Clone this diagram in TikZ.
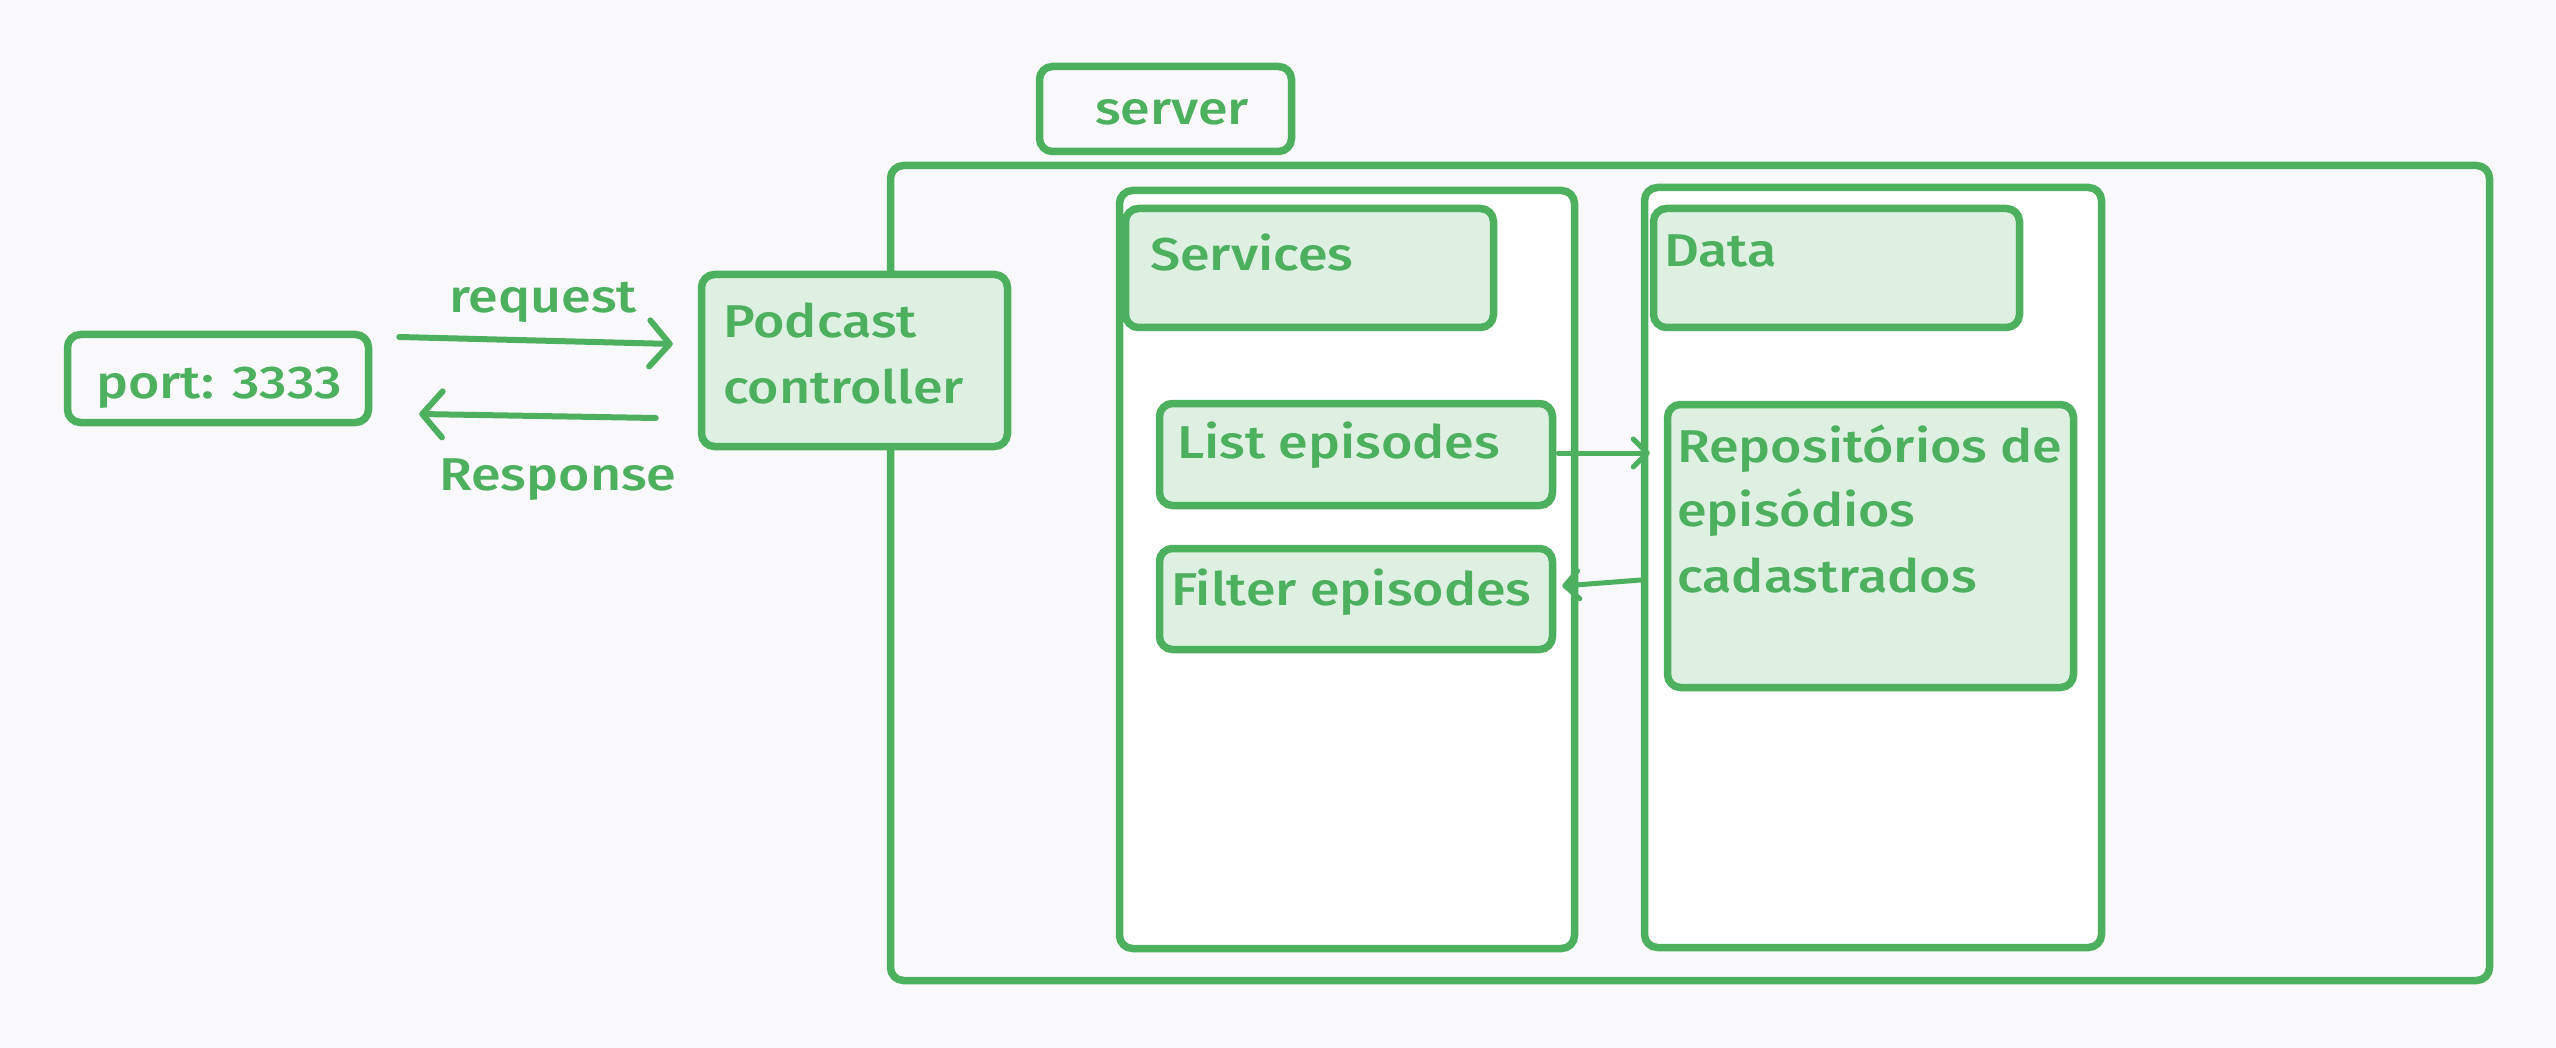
\documentclass[tikz,border=0pt]{standalone}
\usepackage{fontspec}
\setmainfont{Fira Sans Medium}[FakeStretch=1.17]
\usetikzlibrary{arrows.meta,calc}
\definecolor{grn}{HTML}{4DB05F}
\definecolor{lgrn}{HTML}{DDF0E1}
\definecolor{bgc}{HTML}{F9F9FB}
\tikzset{
  boxbase/.style={draw=grn, line width=7.5pt, rounded corners=13pt, inner sep=0pt},
  plainbox/.style={boxbase},
  whitebox/.style={boxbase, fill=white},
  greenbox/.style={boxbase, fill=lgrn},
  txt/.style={text=grn, inner sep=0pt, font=\fontsize{46}{60}\selectfont},
  bigarrow/.style={draw=grn, line width=6pt, line cap=round, line join=round,
    -{Straight Barb[length=20pt,width=46pt,line cap=round,line join=round]}},
  smallarrow/.style={draw=grn, line width=5pt, line cap=round, line join=round,
    -{Straight Barb[length=14pt,width=28pt,line cap=round,line join=round]}}
}
\newcommand{\mybox}[6]{%
  \node[#6, minimum width={#4-#2-7}, minimum height={#5-#3-7}] (#1) at ({(#2+#4)/2},{(#3+#5)/2}) {};}
\begin{document}
\begin{tikzpicture}[x=1pt,y=-1pt]
\fill[bgc] (0,0) rectangle (2556,1048);
\useasboundingbox (0,0) rectangle (2556,1048);
% boxes
\mybox{port}{64}{331}{372}{426}{plainbox}
\mybox{srvlabel}{1036}{63}{1295}{155}{plainbox}
\mybox{outer}{887}{162}{2493}{984}{plainbox}
\mybox{ctrl}{698}{271}{1011}{450}{greenbox}
\mybox{svccol}{1116}{187}{1578}{952}{whitebox}
\mybox{svchead}{1122}{205}{1497}{331}{greenbox}
\mybox{datacol}{1641}{184}{2105}{951}{whitebox}
\mybox{datahead}{1650}{205}{2023}{331}{greenbox}
\mybox{list}{1156}{400}{1556}{509}{greenbox}
\mybox{filter}{1156}{545}{1556}{653}{greenbox}
\mybox{repo}{1664}{401}{2077}{691}{greenbox}
% texts
\node[txt, anchor=base] (tport) at (219,398) {port: 3333};
\node[txt, anchor=base west] (tctrl1) at (723,338) {Podcast};
\node[txt, anchor=base west] (tctrl2) at (723,403) {controller};
\node[txt, anchor=base west] (treq) at (449,313) {request};
\node[txt, anchor=base west] (tresp) at (439,490) {Response};
\node[txt, anchor=base west] (tsrv) at (1095,125) {server};
\node[txt, anchor=base west] (tsvc) at (1150,271) {Services};
\node[txt, anchor=base west] (tdata) at (1664,267) {Data};
\node[txt, anchor=base west] (tlist) at (1177,458) {List episodes};
\node[txt, anchor=base west] (tfilter) at (1171,605) {Filter episodes};
\node[txt, anchor=base west] (trepo1) at (1677,462) {Repositórios de};
\node[txt, anchor=base west] (trepo2) at (1677,526) {episódios};
\node[txt, anchor=base west] (trepo3) at (1677,592) {cadastrados};
% connectors
\draw[bigarrow] ($(port.east)+(27,-41.5)$) -- ($(ctrl.west)+(-25,-16.5)$);
\draw[bigarrow] ($(ctrl.west)+(-42,57.5)$) -- ($(port.east)+(47,35.5)$);
\draw[smallarrow] ($(list.east)+(2,-1.5)$) -- ($(repo.west)+(-14,-93)$);
\draw[smallarrow] ($(repo.west)+(-23,34)$) -- ($(filter.east)+(6,-13)$);
\end{tikzpicture}
\end{document}
